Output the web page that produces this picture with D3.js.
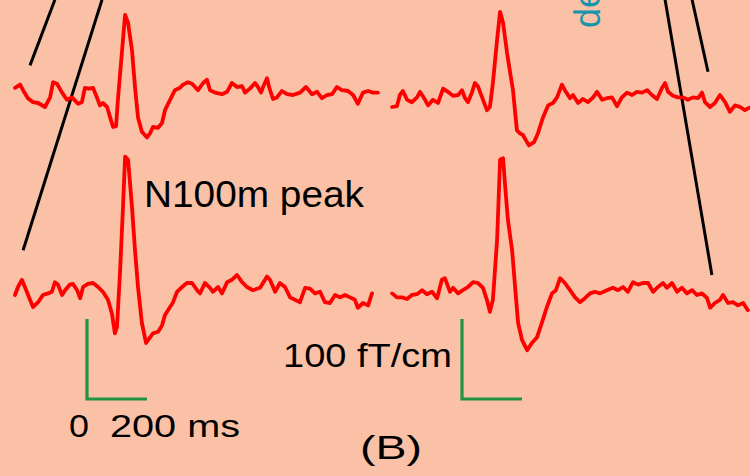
<!DOCTYPE html>
<html>
<head>
<meta charset="utf-8">
<script src="https://cdn.jsdelivr.net/npm/d3@7/dist/d3.min.js"></script>
<style>
  body { margin: 0; background: #fbc1a7; }
  svg { display: block; }
  text { font-family: "Liberation Sans", Arial, Helvetica, sans-serif; fill: #000; }
</style>
</head>
<body>
<div class="fig"></div>
<script>
// time (ms) and amplitude (fT/cm) of each trace
// top left
var tA = [-240,-223,-213,-197,-180,-163,-140,-123,-113,-100,-83,-67,-50,-30,-17,-7,7,20,33,43,53,67,77,87,97,103,117,127,137,150,160,170,183,200,210,220,237,250,260,277,293,310,320,337,350,370,387,400,410,427,450,467,483,500,517,527,543,560,570,580,587,600,607,620,633,650,667,687,710,730,750,767,783,800,817,833,850,870,887,903,920,937,953,970];
var aA = [9,13,6,-4,-9,-10,-15,-3,16,14,3,-6,-3,-11,-9,9,8,9,-3,-13,-10,-15,-28,-40,-39,-6,56,100,90,56,10,-28,-46,-53,-48,-40,-41,-35,-19,-6,6,9,13,16,14,6,15,19,6,3,1,4,15,10,11,3,8,15,10,3,10,21,10,-5,-3,5,1,0,3,10,1,4,-4,0,1,10,6,5,0,-11,3,5,3,3];
// top right
var tB = [-233,-217,-207,-197,-183,-167,-150,-140,-123,-113,-97,-80,-63,-47,-30,-13,0,10,20,33,43,53,67,83,93,103,117,127,137,150,160,170,183,193,203,223,240,253,270,287,303,317,333,343,360,370,387,403,420,437,450,467,483,500,517,533,550,567,583,600,617,633,650,667,677,687,703,720,737,753,770,787,800,810,827,843,860,877,893,910,927,943,957];
var aB = [-15,-14,0,5,-6,-9,-3,4,-6,-13,-6,-10,8,4,-1,0,6,-4,-9,3,15,11,-3,-19,-15,15,69,104,90,53,29,6,-44,-48,-50,-63,-59,-48,-28,-13,-10,-3,13,6,-4,0,-10,-5,-9,-3,4,-6,-4,-3,-14,-3,3,0,4,3,6,0,-5,9,15,4,-1,-3,-3,-6,-3,-4,3,-9,-15,-10,0,-9,-21,-13,-15,-19,-16];
// bottom left
var tC = [-240,-230,-217,-207,-190,-180,-163,-147,-130,-117,-107,-97,-83,-73,-57,-47,-33,-23,-13,3,20,37,53,70,83,93,100,110,120,127,137,150,160,170,183,197,210,220,237,250,260,270,287,300,317,333,350,367,377,393,410,420,437,450,467,483,500,517,533,553,577,600,610,627,643,660,677,693,710,727,743,760,777,793,810,827,843,860,877,893,903,920,937,950];
var aC = [-5,5,14,5,-11,-20,-14,-5,-3,-1,11,8,-5,1,8,9,1,-9,5,9,10,5,-1,-11,-28,-53,-45,23,105,168,164,105,51,5,-40,-65,-58,-53,-51,-43,-30,-24,-14,-1,5,10,10,1,-3,10,4,-1,5,-3,11,14,20,11,5,1,4,18,14,-1,10,5,-8,-11,-14,4,3,-3,-1,-14,-15,-5,-8,-5,-8,-11,-21,-15,-18,-3];
// bottom right
var tD = [-233,-217,-200,-183,-167,-150,-133,-117,-100,-83,-67,-57,-40,-30,-13,3,20,37,53,70,83,93,103,117,127,137,143,153,167,177,187,200,217,233,250,267,283,300,313,327,343,360,377,393,410,427,443,460,483,503,520,537,553,570,587,603,620,637,653,670,683,700,717,733,750,767,783,800,817,827,843,860,870,887,903,920,937,953];
var aD = [-3,-8,-8,-10,-5,-4,1,-4,-1,-9,14,16,-1,4,-3,1,5,11,10,4,-11,-26,-11,64,164,166,135,89,51,5,-40,-61,-74,-65,-58,-39,-20,-3,1,16,10,1,-8,-14,-9,-3,-1,-3,1,4,1,5,-1,11,8,10,10,-1,5,10,4,10,-1,4,-3,1,-5,-3,-9,-21,-15,-11,-5,-15,-14,-18,-15,-24];

// sensor connector lines [t, amplitude] in the top row's units
var linksLeft  = [[[-190, 37], [-107, 119]], [[50, 119], [-213, -194]]];
var linksRight = [[[677, 119], [833, -225]], [[767, 119], [820, 29]]];

// calibration bars
var barMs = 200, barFT = 100, barBase = -135;

var width = 750, height = 476;

var svg = d3.select(".fig")
  .append("svg")
  .attr("width", width)
  .attr("height", height);

svg.append("rect")
  .attr("width", width)
  .attr("height", height)
  .attr("fill", "#fbc1a7");

// 200 ms = 60 px, 100 fT/cm = 80 px
function xScaleAt(x0) {
  return d3.scaleLinear().domain([0, 200]).range([x0, x0 + 60]);
}
function yScaleAt(base) {
  return d3.scaleLinear().domain([0, 100]).range([base, base - 80]);
}

var xLeft = xScaleAt(87), xRight = xScaleAt(462);
var yTop = yScaleAt(95), yBottom = yScaleAt(291);

var traces = [
  { t: tA, a: aA, x: xLeft,  y: yTop },
  { t: tB, a: aB, x: xRight, y: yTop },
  { t: tC, a: aC, x: xLeft,  y: yBottom },
  { t: tD, a: aD, x: xRight, y: yBottom }
];

// connector lines
function drawLinks(links, x, y) {
  svg.selectAll(null)
    .data(links)
    .enter()
    .append("line")
    .attr("x1", function (d) { return x(d[0][0]); })
    .attr("y1", function (d) { return y(d[0][1]); })
    .attr("x2", function (d) { return x(d[1][0]); })
    .attr("y2", function (d) { return y(d[1][1]); })
    .attr("stroke", "#000")
    .attr("stroke-width", 3);
}
drawLinks(linksLeft, xLeft, yTop);
drawLinks(linksRight, xRight, yTop);

// traces
traces.forEach(function (tr) {
  var pts = tr.t.map(function (t, i) { return [t, tr.a[i]]; });
  var line = d3.line()
    .x(function (d) { return tr.x(d[0]); })
    .y(function (d) { return tr.y(d[1]); });
  svg.append("path")
    .datum(pts)
    .attr("d", line)
    .attr("fill", "none")
    .attr("stroke", "#ff0000")
    .attr("stroke-width", 3.8)
    .attr("stroke-linejoin", "round")
    .attr("stroke-linecap", "round");
});

// calibration bars (green)
[xLeft, xRight].forEach(function (x) {
  svg.append("path")
    .attr("d", "M" + x(0) + "," + yBottom(barBase + barFT) +
               "V" + yBottom(barBase) + "H" + x(barMs))
    .attr("fill", "none")
    .attr("stroke", "#1f9443")
    .attr("stroke-width", 3.2);
});

// labels
svg.append("text")
  .text("N100m peak")
  .attr("x", 144).attr("y", 207)
  .attr("font-size", "36px")
  .attr("textLength", 220).attr("lengthAdjust", "spacingAndGlyphs");

svg.append("text")
  .text("100 fT/cm")
  .attr("x", 283).attr("y", 367)
  .attr("font-size", "33px")
  .attr("textLength", 169).attr("lengthAdjust", "spacingAndGlyphs");

svg.append("text")
  .text("0")
  .attr("x", 69).attr("y", 437)
  .attr("font-size", "31px")
  .attr("textLength", 20).attr("lengthAdjust", "spacingAndGlyphs");

svg.append("text")
  .text("200 ms")
  .attr("x", 110).attr("y", 437)
  .attr("font-size", "31px")
  .attr("textLength", 130).attr("lengthAdjust", "spacingAndGlyphs");

svg.append("text")
  .text("(B)")
  .attr("x", 360).attr("y", 459)
  .attr("font-size", "34px")
  .attr("textLength", 62).attr("lengthAdjust", "spacingAndGlyphs");

// rotated label, cut by the top edge as in the figure
svg.append("text")
  .text("de")
  .attr("transform", "translate(600,28) rotate(-90)")
  .attr("font-size", "36px")
  .style("fill", "#1994ad");
</script>
</body>
</html>
